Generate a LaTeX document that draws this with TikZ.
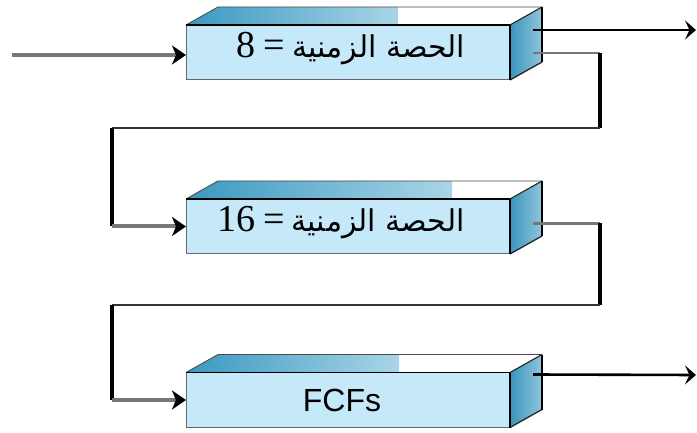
\documentclass[tikz,border=0pt]{standalone}
\usepackage{fontspec}
\setmainfont{Liberation Serif}
\newfontfamily\arabicfont[Script=Arabic]{DejaVu Sans}
\newfontfamily\labelsans{Liberation Sans}
\TeXXeTstate=1
\usetikzlibrary{arrows.meta,calc}

\definecolor{frontblue}{HTML}{C6E9F9}
\definecolor{deepblue}{HTML}{3A98C1}
\definecolor{paleblue}{HTML}{A9D5E7}
\definecolor{sideblue}{HTML}{3B94BC}
\definecolor{sidepale}{HTML}{8FC6DC}
\definecolor{wiregray}{HTML}{777777}

\tikzset{
  frontface/.style={draw=black!60, line width=1pt, fill=frontblue,
    minimum width=324pt, minimum height=55pt, inner sep=0pt, outer sep=0pt},
  numtxt/.style={inner sep=0pt, font=\fontsize{38}{40}\selectfont},
  sanstxt/.style={inner sep=0pt, font=\labelsans\fontsize{32}{34}\selectfont},
  feed/.style={draw=wiregray, line width=4pt},
  stub/.style={draw=wiregray, line width=2.2pt},
  riser/.style={draw=black, line width=3.2pt},
  crossing/.style={draw=black!80, line width=2.2pt},
  intip/.style={arrows={-Stealth[length=14pt,width=19pt,inset=4pt,color=black]}},
  exitline/.style={draw=black, line width=2.6pt,
    arrows={-Stealth[length=11pt,width=19pt,inset=4.5pt]}},
}

% top and right faces of a queue block; #1 = front node, #2 = length of the shaded part
\newcommand\blockdepth[2]{%
  \path (#1.north west) coordinate (#1-a) ++(32,-18) coordinate (#1-b);
  \path (#1.north east) coordinate (#1-c) ++(32,-18) coordinate (#1-d);
  \path (#1.south east) ++(32,-18) coordinate (#1-e);
  \fill[white] (#1-a) -- (#1-b) -- (#1-d) -- (#1-c) -- cycle;
  \begin{scope}
    \clip (#1-a) -- (#1-b) -- (#1-d) -- (#1-c) -- cycle;
    \shade[left color=deepblue, right color=paleblue]
      (#1-a) rectangle ($(#1-a)+(#2,-18)$);
  \end{scope}
  \shade[left color=sideblue, right color=sidepale]
    (#1-c) -- (#1-d) -- (#1-e) -- (#1.south east) -- cycle;
  \draw[black!70, line width=0.9pt] (#1-a) -- (#1-b) -- (#1-d);
  \draw[black!85, line width=1.1pt] (#1-c) -- (#1-d);
  \draw[black!85, line width=1.3pt] (#1.south east) -- (#1-e);
  \draw[black, line width=2.4pt] (#1-d) -- (#1-e);
  \draw[black, line width=1.1pt] (#1.north east) -- (#1.south east);
  \draw[black, line width=1.8pt] (#1.north west) -- (#1.north east);
}

\newcommand\quantumtext[1]{%
  \beginR{\arabicfont\fontsize{30}{32}\selectfont الحصة الزمنية}\hspace{7pt}=\hspace{8pt}\beginL #1\endL\endR}

\begin{document}
\begin{tikzpicture}[x=1pt, y=-1pt]
  \useasboundingbox (0,0) rectangle (697,433);

  % queue blocks
  \node[frontface] (q1) at (348,52.5) {};
  \blockdepth{q1}{212}
  \node[frontface] (q2) at (348,226.5) {};
  \blockdepth{q2}{266}
  \node[frontface] (q3) at (348,400) {};
  \blockdepth{q3}{213}

  \node[numtxt] (t1) at (351,49) {\quantumtext{8}};
  \node[numtxt] (t2) at (341,223) {\quantumtext{16}};
  \node[sanstxt] (t3) at (342,400) {FCFs};

  % end points of the connectors
  \coordinate (src) at (12,55);
  \coordinate (o1) at ($(q1.north east)+(23,5)$);
  \coordinate (sink1) at (696,30);
  \coordinate (o3) at ($(q3.north east)+(23,2)$);
  \coordinate (sink3) at (696,375);

  \coordinate (s1) at ($(q1.east)+(23,0.5)$);
  \coordinate (a1) at (600,53);
  \coordinate (b1) at (600,128);
  \coordinate (c1) at (112,128);
  \coordinate (d1) at (112,226.5);

  \coordinate (s2) at ($(q2.east)+(23,-3)$);
  \coordinate (a2) at (600,223.5);
  \coordinate (b2) at (600,305);
  \coordinate (c2) at (112,305);
  \coordinate (d2) at (112,400);

  % arrival
  \draw[feed, intip] (src) -- (src -| q1.west);

  % first feedback loop
  \draw[stub] (s1) -- (a1);
  \draw[riser] (a1) -- (b1);
  \draw[crossing] (b1) -- (c1);
  \draw[riser] (c1) -- (d1);
  \draw[feed, intip] (d1) -- (q2.west);

  % second feedback loop
  \draw[stub] (s2) -- (a2);
  \draw[riser] (a2) -- (b2);
  \draw[crossing] (b2) -- (c2);
  \draw[riser] (c2) -- (d2);
  \draw[feed, intip] (d2) -- (q3.west);

  % departures
  \draw[exitline] (o1) -- (sink1);
  \draw[exitline] (o3) -- (sink3);
\end{tikzpicture}
\end{document}
